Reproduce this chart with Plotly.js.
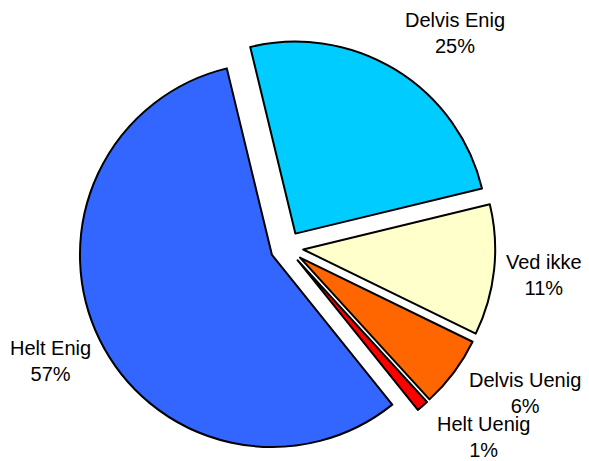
<!DOCTYPE html>
<html>
<head>
<meta charset="utf-8">
<script src="https://cdn.plot.ly/plotly-3.0.1.min.js"></script>
<style>html,body{margin:0;padding:0;background:#fff;}#chart{width:589px;height:461px;}</style>
</head>
<body>
<div id="chart"></div>
<script>
var labels = ['Delvis Enig', 'Ved ikke', 'Delvis Uenig', 'Helt Uenig', 'Helt Enig'];
var values = [25, 11, 6, 1, 57];
var colors = ['#00CCFF', '#FFFFCC', '#FF6600', '#FF0000', '#3366FF'];
// label positions (pixels) for each slice label
var labelPos = [[455, 33], [544, 275], [525, 393], [483, 437], [50, 361]];

var W = 589, H = 461;
var total = values.reduce(function (a, b) { return a + b; }, 0);
var annotations = labels.map(function (l, i) {
  return {
    xref: 'paper', yref: 'paper',
    x: labelPos[i][0] / W, y: 1 - labelPos[i][1] / H,
    xanchor: 'center', yanchor: 'middle',
    text: l + '<br>' + Math.round(values[i] / total * 100) + '%',
    showarrow: false,
    font: {family: 'Arial, "Liberation Sans", sans-serif', size: 20, color: '#000'}
  };
});

var trace = {
  type: 'pie',
  labels: labels,
  values: values,
  sort: false,
  direction: 'clockwise',
  rotation: -13.6,
  pull: [0.086, 0.086, 0.086, 0.086, 0.086],
  marker: {colors: colors, line: {color: '#000', width: 2}},
  textinfo: 'none',
  hoverinfo: 'label+percent',
  domain: {x: [0.1329, 0.8409], y: [0.0104, 0.915]}
};

var layout = {
  width: W, height: H,
  margin: {l: 0, r: 0, t: 0, b: 0},
  showlegend: false,
  paper_bgcolor: '#fff',
  plot_bgcolor: '#fff',
  annotations: annotations
};

Plotly.newPlot('chart', [trace], layout, {displayModeBar: false, staticPlot: true});
</script>
</body>
</html>
